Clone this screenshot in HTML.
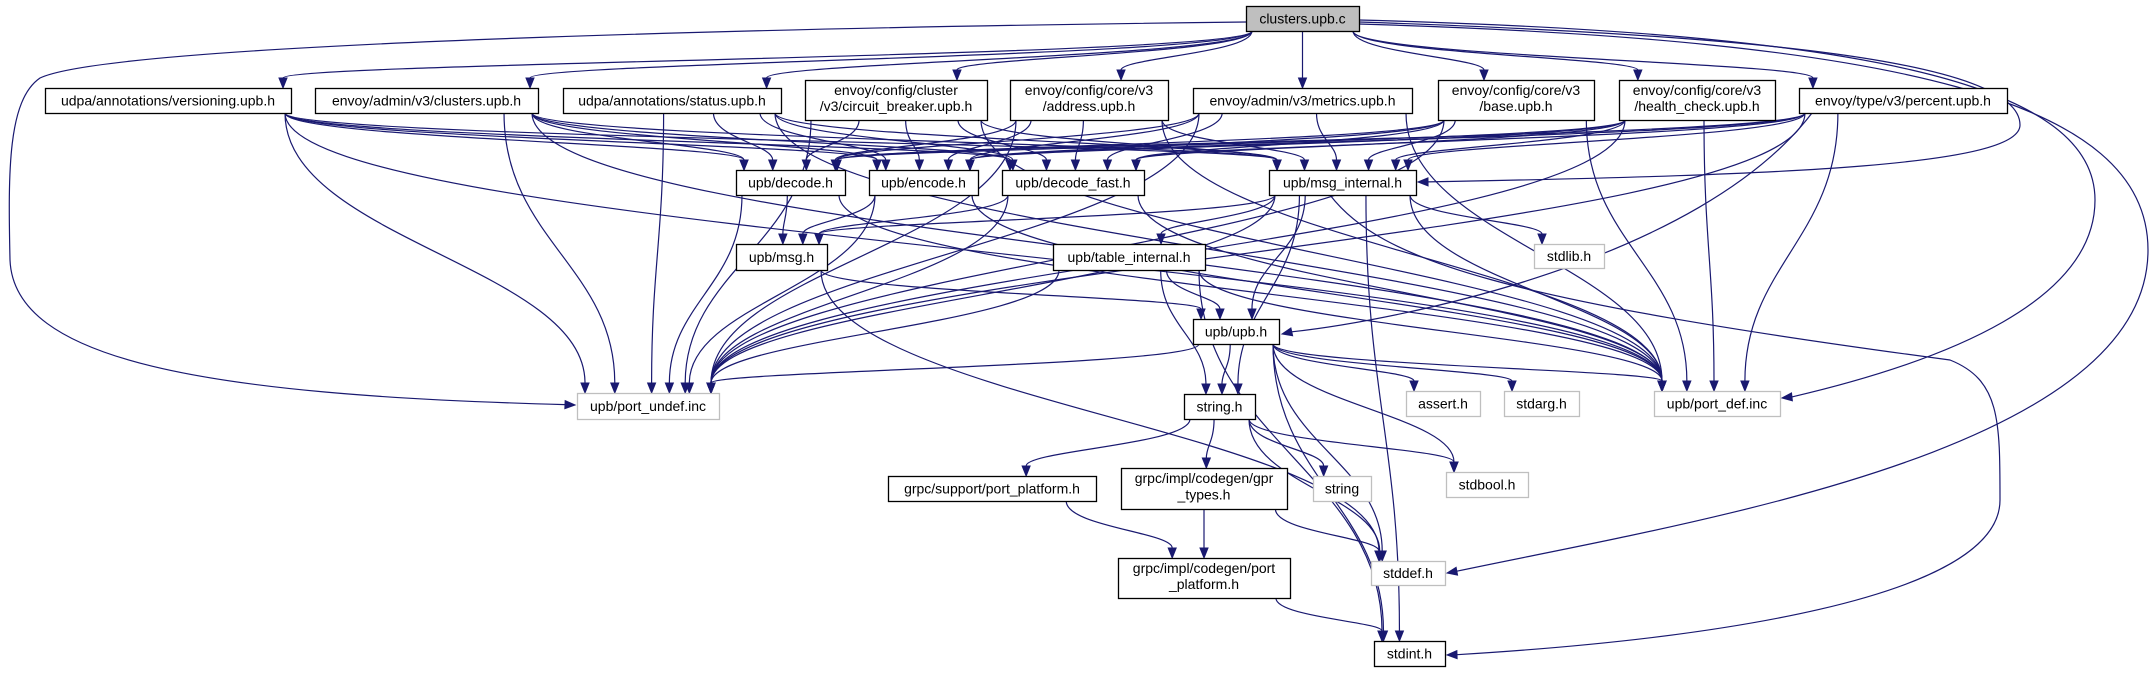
<!DOCTYPE html>
<html><head><meta charset="utf-8"><style>
html,body{margin:0;padding:0;background:#fff;width:2155px;height:679px;overflow:hidden}
svg text{font-family:"Liberation Sans",sans-serif;font-size:14px;fill:#000}
</style></head><body>
<svg id="g" width="2155" height="679" viewBox="0 0 2155 679" xmlns="http://www.w3.org/2000/svg">
<g id="edges" fill="none" stroke="#191970" stroke-width="1.2"></g>
<g id="arrows" fill="#191970" stroke="#191970"></g>
<g id="nodes"></g>
</svg>
<script>
var N={
C:[1246,6,1359,31,["clusters.upb.c"],2],
V:[45,88,291,113,["udpa/annotations/versioning.upb.h"],0],
CL:[315,88,538,113,["envoy/admin/v3/clusters.upb.h"],0],
S:[563,88,781,113,["udpa/annotations/status.upb.h"],0],
CB:[805,80,987,120,["envoy/config/cluster","/v3/circuit_breaker.upb.h"],0],
AD:[1010,80,1168,120,["envoy/config/core/v3","/address.upb.h"],0],
ME:[1193,88,1412,113,["envoy/admin/v3/metrics.upb.h"],0],
BA:[1438,80,1594,120,["envoy/config/core/v3","/base.upb.h"],0],
HC:[1619,80,1775,120,["envoy/config/core/v3","/health_check.upb.h"],0],
PE:[1799,88,2007,113,["envoy/type/v3/percent.upb.h"],0],
DE:[736,170,845,195,["upb/decode.h"],0],
EN:[869,170,978,195,["upb/encode.h"],0],
DF:[1002,170,1144,195,["upb/decode_fast.h"],0],
MI:[1269,170,1416,195,["upb/msg_internal.h"],0],
MS:[736,244,827,270,["upb/msg.h"],0],
TI:[1053,244,1205,270,["upb/table_internal.h"],0],
SL:[1534,244,1604,268,["stdlib.h"],1],
UPB:[1193,319,1279,344,["upb/upb.h"],0],
PU:[577,393,719,419,["upb/port_undef.inc"],1],
PD:[1654,391,1780,416,["upb/port_def.inc"],1],
STR:[1184,394,1255,419,["string.h"],0],
AS:[1406,391,1480,416,["assert.h"],1],
SA:[1504,391,1579,416,["stdarg.h"],1],
GSP:[888,476,1096,501,["grpc/support/port_platform.h"],0],
GT:[1121,468,1287,509,["grpc/impl/codegen/gpr","_types.h"],0],
SG:[1313,476,1371,501,["string"],1],
SB:[1446,472,1528,497,["stdbool.h"],1],
CPP:[1118,558,1290,598,["grpc/impl/codegen/port","_platform.h"],0],
SD:[1371,561,1445,585,["stddef.h"],1],
SI:[1374,641,1445,666,["stdint.h"],0]
};
var E=[];
["V","CL","S","CB","AD","ME","BA","HC","PE"].forEach(function(h){E.push(["C",h]);["DE","EN","DF","MI","PU","PD"].forEach(function(t){E.push([h,t]);});});
E=E.concat([["DE","MS"],["DE","PU"],["DE","PD"],["EN","MS"],["EN","PU"],["EN","PD"],["DF","MS"],["DF","PU"],["DF","PD"],
["MI","MS"],["MI","TI"],["MI","SL"],["MI","UPB"],["MI","STR"],["MI","PU"],["MI","PD"],["MI","SI"],
["MS","UPB"],["MS","SD"],["TI","UPB"],["TI","STR"],["TI","PU"],["TI","PD"],["TI","SI"],
["UPB","STR"],["UPB","AS"],["UPB","SA"],["UPB","SB"],["UPB","SD"],["UPB","SI"],["UPB","PU"],["UPB","PD"],
["STR","GSP"],["STR","GT"],["STR","SG"],["STR","SB"],["STR","SD"],["GSP","CPP"],["GT","CPP"],["GT","SD"],["CPP","SI"]]);
var eg=document.getElementById("edges"),ag=document.getElementById("arrows"),ng=document.getElementById("nodes"),NS="http://www.w3.org/2000/svg";
function el(p,t,a){var e=document.createElementNS(NS,t);for(var k in a)e.setAttribute(k,a[k]);p.appendChild(e);return e;}
function cl(v,a,b){return Math.max(a,Math.min(b,v));}
function arrow(x1,y1,x,y){var dx=x-x1,dy=y-y1,l=Math.sqrt(dx*dx+dy*dy)||1;dx/=l;dy/=l;var L=10,W=4;
var bx=x-dx*L,by=y-dy*L;el(ag,"polygon",{points:x+","+y+" "+(bx-dy*W)+","+(by+dx*W)+" "+(bx+dy*W)+","+(by-dx*W)});return[bx,by];}
function path(d,cx,cy,tx,ty){var b=arrow(cx,cy,tx,ty);el(eg,"path",{d:d+" "+b[0]+","+b[1]});}
E.forEach(function(e){var s=N[e[0]],t=N[e[1]];
var scx=(s[0]+s[2])/2,tcx=(t[0]+t[2])/2;
var sx=cl(scx+(tcx-scx)*0.35,s[0]+6,s[2]-6),sy=s[3];
var ex=cl(tcx+(scx-tcx)*0.15,t[0]+8,t[2]-8),ey=t[1];
var dy=ey-sy;
var c1y=sy+dy*0.45,c2y=ey-dy*0.45;
path("M"+sx+","+sy+" C"+sx+","+c1y+" "+ex+","+c2y,ex,c2y,ex,ey);});
// special long edges
path("M1246,22 C900,26 120,40 40,78 C8,100 8,170 10,260 C14,360 200,395",450,400,575,405);
path("M1359,22 C1750,35 2020,60 2020,125 C2020,165 1800,175",1700,178,1418,182);
path("M1359,20 C1850,33 2095,80 2095,200 C2095,300 1950,360",1900,385,1782,398);
path("M1359,24 C1900,40 2148,100 2148,250 C2148,450 1700,520",1600,545,1447,573);
path("M1812,113 C1700,260 1400,320",1300,330,1282,334);
path("M1330,195 C1380,260 1500,300 1950,360 C2000,380 2000,420 2000,500 C2000,600 1700,640",1600,650,1447,655);
ng.innerHTML="";
for(var k in N){var n=N[k];var st=n[5]==1?"#bfbfbf":"#000";
el(ng,"rect",{x:n[0]+.5,y:n[1]+.5,width:n[2]-n[0],height:n[3]-n[1],fill:n[5]==2?"#bfbfbf":"#fff",stroke:st,"stroke-width":1.3});
var cx=(n[0]+n[2])/2,L=n[4];
if(L.length==1){var t=el(ng,"text",{x:cx,y:(n[1]+n[3])/2+5,"text-anchor":"middle"});t.textContent=L[0];}
else{var h=n[3]-n[1];for(var i=0;i<2;i++){var t=el(ng,"text",{x:cx,y:n[1]+h*0.37+i*h*0.4,"text-anchor":"middle"});t.textContent=L[i];}}}
</script>
</body></html>
